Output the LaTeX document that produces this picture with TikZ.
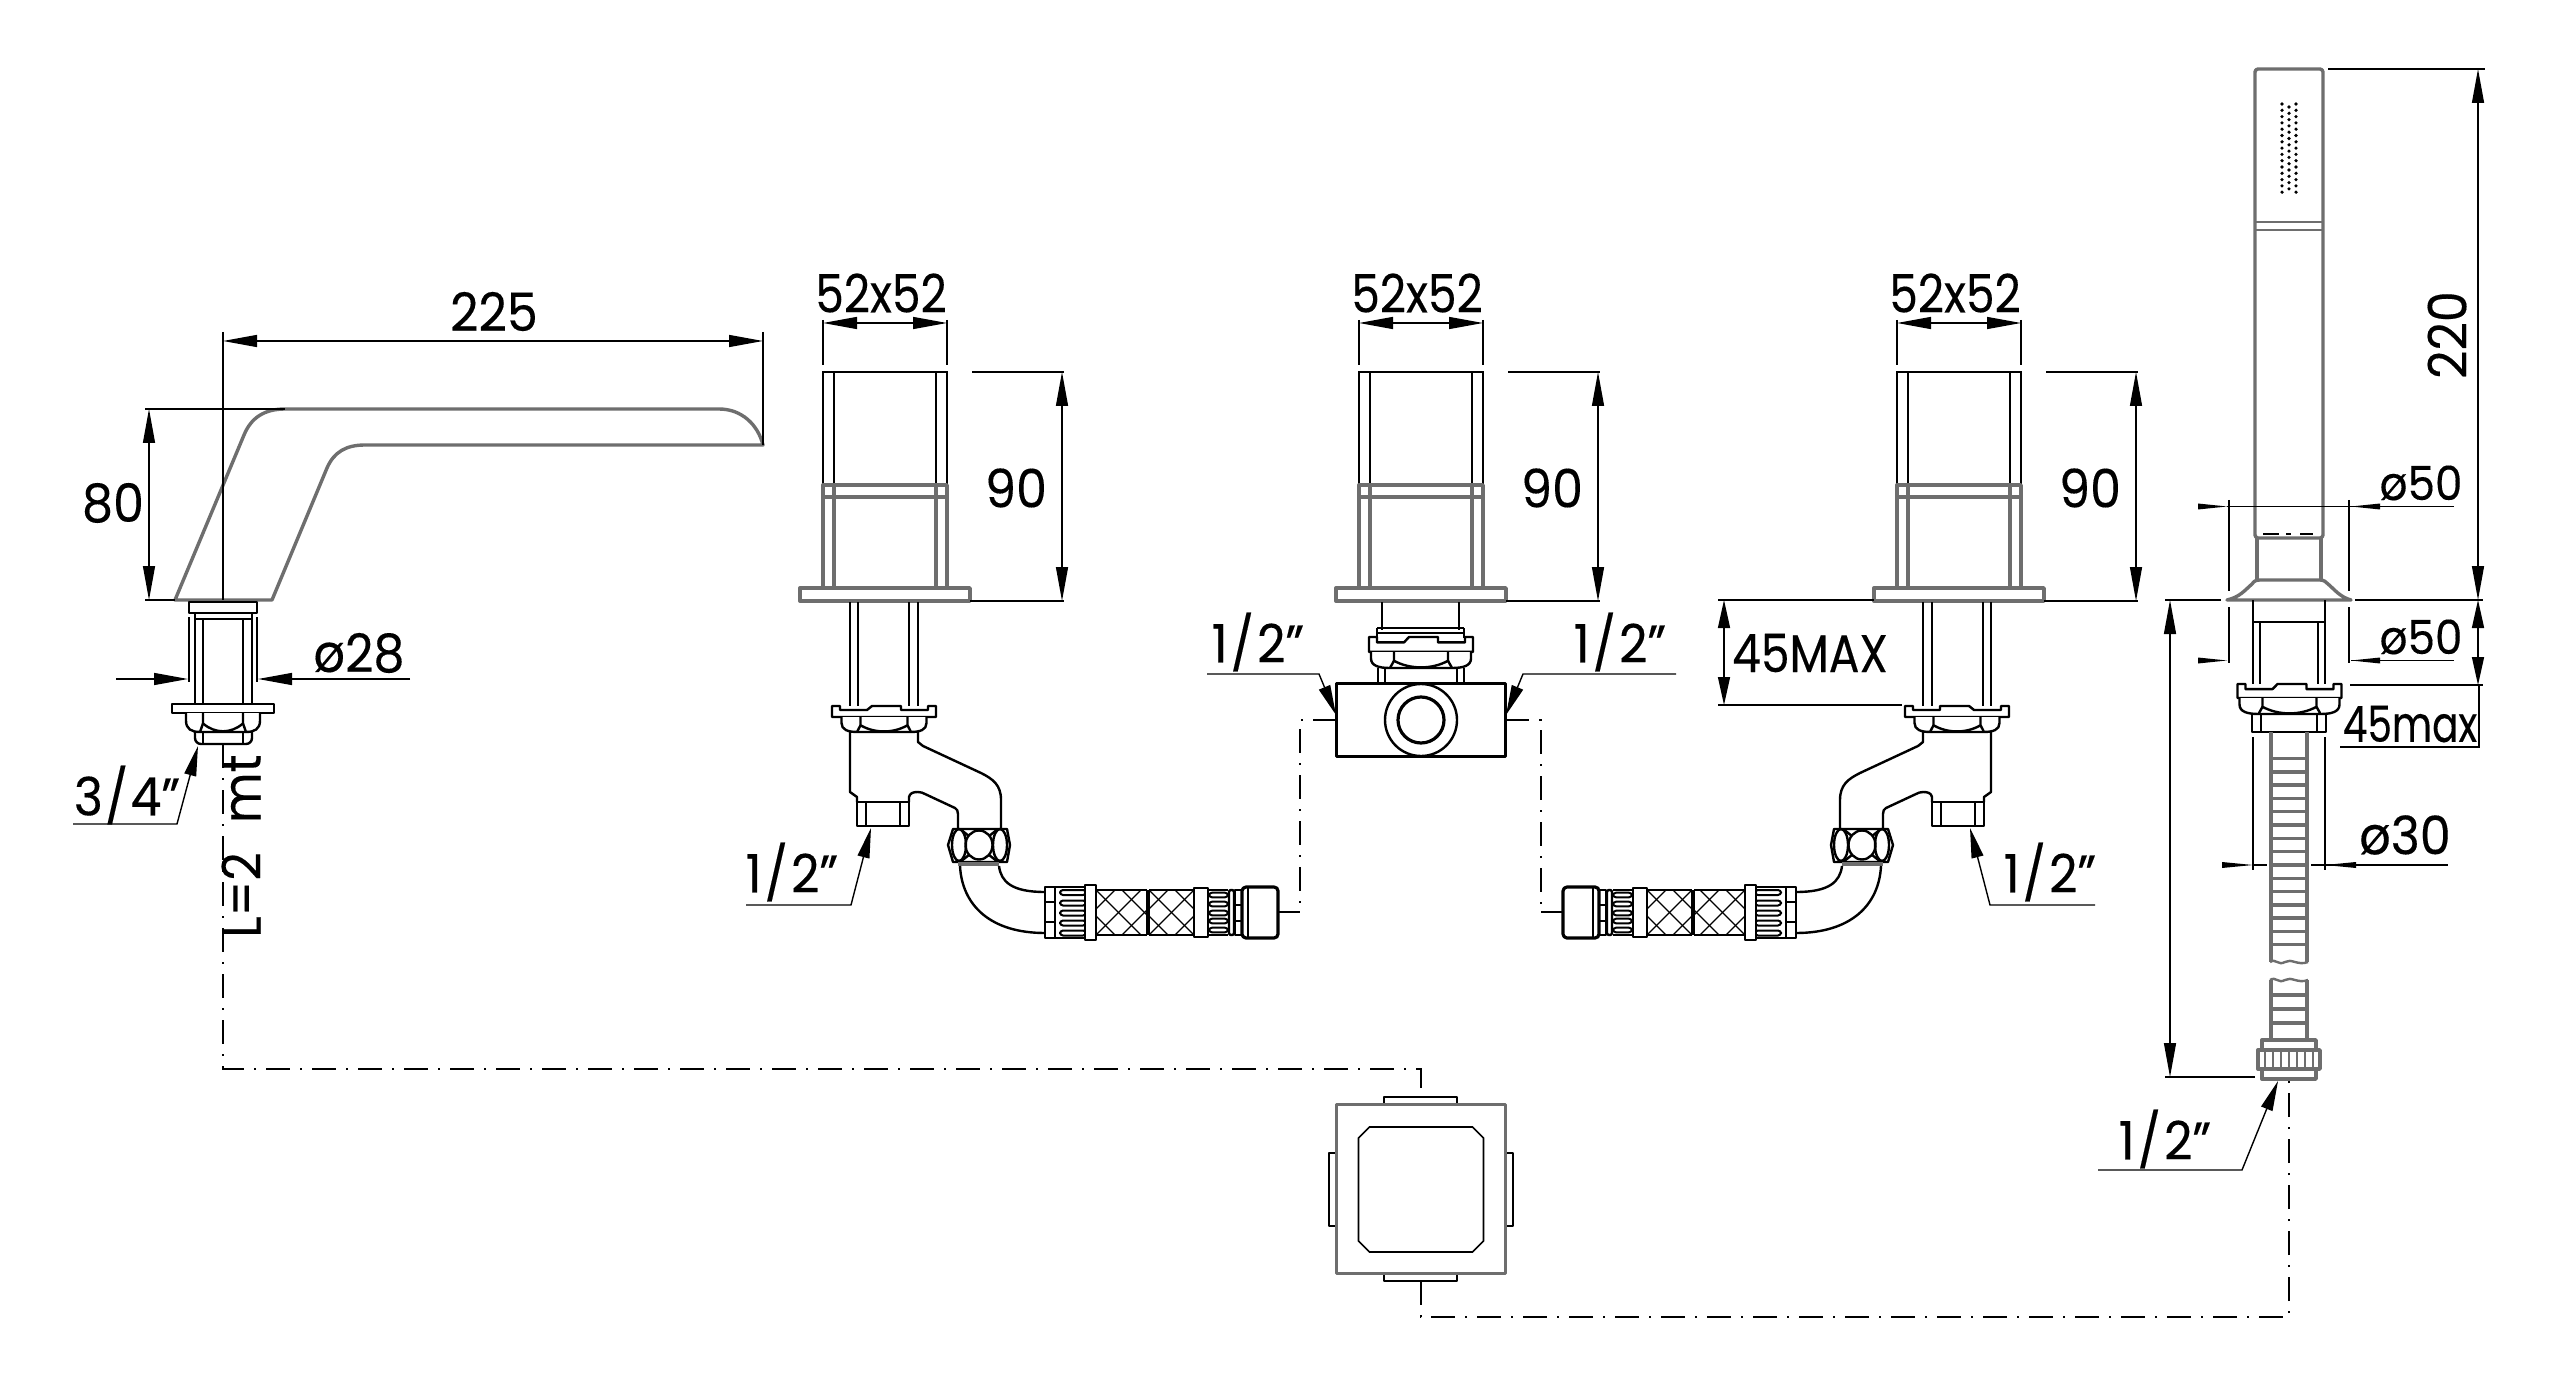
\documentclass[tikz,border=0pt]{standalone}
\usepackage{fontspec}
\setmainfont{Poppins}
\newfontface\dimfont{Poppins}[FakeBold=0.25,FakeStretch=0.93]
\newfontface\dimnarrow{Poppins}[FakeBold=0.25,FakeStretch=0.86]
\newfontface\dimtight{Poppins}[FakeBold=0.25,FakeStretch=0.78]
\usetikzlibrary{arrows.meta}
\definecolor{gr}{HTML}{6E6E6E}
\tikzset{
 blk/.style={line width=1.2pt,line join=round,black},
 gry/.style={line width=1.7pt,line join=round,gr},
 thn/.style={line width=0.7pt,black},
 cline/.style={line width=0.7pt,black,dash pattern=on 12pt off 5pt on 1pt off 5pt},
 dimline/.style={line width=0.7pt,black,>={Triangle[length=17pt,width=6pt]}},
 dimshort/.style={line width=0.7pt,black,>={Triangle[length=14pt,width=6pt]}},
 leader/.style={line width=0.7pt,black,-{Triangle[length=15pt,width=6pt]}},
 dimtext/.style={inner sep=0pt,font={\dimfont\fontsize{26.5}{28}\selectfont}},
 narrowtext/.style={inner sep=0pt,font={\dimnarrow\fontsize{26.5}{28}\selectfont}},
 smalltext/.style={inner sep=0pt,font={\dimfont\fontsize{23.5}{26}\selectfont}},
 tighttext/.style={inner sep=0pt,font={\dimtight\fontsize{25}{27}\selectfont}},
}
\newcommand\halfinch{1\kern1.5pt/\kern1.5pt2”}
\newcommand\flangeshape{%
 \draw[blk,fill=white] (-52,0)--(-44,0)--(-44,4)--(-17,4)--(-12,0)--(17,0)--(17,4)--(44,4)--(44,0)--(52,0)--(52,11)--(-52,11)--cycle;}
\newcommand\nutshape[3]{%
 \draw[blk,fill=white] (-#1,0)--(-#1,{.4*#3}) .. controls (-#1,{.85*#3}) and ({-.85*#1},#3) .. ({-.62*#1},#3)--({.62*#1},#3) .. controls ({.85*#1},#3) and (#1,{.85*#3}) .. (#1,{.4*#3})--(#1,0);
 \draw[blk] (-#2,0)--(-#2,{.55*#3}) .. controls ({-.4*#2},{1.1*#3}) and ({.4*#2},{1.1*#3}) .. (#2,{.55*#3})--(#2,0);
 \draw[blk] (-#2,{.55*#3})--({-1.15*#2},#3) (#2,{.55*#3})--({1.15*#2},#3);}
\newcommand\headunit[2]{%
 \begin{scope}[shift={(#1,0)}]
 \draw[thn] (-62,485)--(-62,372)--(62,372)--(62,485);
 \draw[thn] (-51,372)--(-51,485) (51,372)--(51,485);
 \draw[gry] (-62,485) rectangle (62,497);
 \draw[gry] (-62,497)--(-62,588) (-51,485)--(-51,588) (51,485)--(51,588) (62,497)--(62,588);
 \draw[gry,fill=white] (-85,588) rectangle (85,601);
 \draw[thn] (-62,320)--(-62,365) (62,320)--(62,365);
 \draw[dimline,<->] (-62,323)--(62,323);
 \node[narrowtext] (w#2) at (-4,293) {52x52};
 \draw[thn] (87,372)--(179,372) (85,601)--(179,601);
 \draw[dimline,<->] (177,372)--(177,601);
 \node[dimtext] (h#2) at (131,488) {90};
 \end{scope}}
\newcommand\lowerassy[1]{%
 \draw[blk] (850,602)--(850,706) (858,602)--(858,706) (909,602)--(909,706) (918,602)--(918,706);
 \begin{scope}[shift={(884,706)}]\flangeshape\end{scope}
 \begin{scope}[shift={(884,717)}]\nutshape{42.5}{23.5}{15}\end{scope}
 \draw[blk] (850,732)--(850,792)--(857,797)--(857,802);
 \draw[blk] (857,802) rectangle (909,826);
 \draw[blk] (866,802)--(866,826) (900,802)--(900,826);
 \draw[blk] (909,802)--(909,797) .. controls (910,793) and (913,792) .. (918,792) .. controls (921,792) and (923,793) .. (925,794)--(955,808) .. controls (957,809) and (958,811) .. (958,814)--(958,829);
 \draw[blk] (918,732)--(918,742)--(923,746)--(981,773) .. controls (993,779) and (1001,785) .. (1001,800)--(1001,829);
 \draw[blk,fill=white] (953,829)--(1007,829)--(1010,845)--(1007,862)--(953,862)--(948,845)--cycle;
 \draw[blk] (959,845) circle [x radius=7,y radius=16];
 \draw[blk] (1000,845) circle [x radius=7,y radius=16];
 \draw[blk] (979,845) circle [x radius=13.5,y radius=14.5];
 \draw[blk] (960,829)--(969,836) (998,829)--(989,836) (960,862)--(969,855) (998,862)--(989,855);
 \fill[gr] (958,862) rectangle (999,866);
 \draw[blk] (960,866) .. controls (962,905) and (990,933) .. (1045,933);
 \draw[blk] (999,866) .. controls (1001,882) and (1012,892) .. (1045,892);
 \draw[blk,fill=white] (1045,887) rectangle (1055,938);
 \draw[blk] (1045,902)--(1055,902) (1045,922)--(1055,922);
 \draw[blk] (1055,887)--(1085,887) (1055,938)--(1085,938);
 \foreach \yy in {892.5,903,913,923,933}{\draw[blk,line width=1pt,rounded corners=1.5pt,fill=white] (1060,\yy-2.5) rectangle (1086,\yy+2.5);}
 \draw[blk,fill=white] (1085,885) rectangle (1096,940);
 \foreach \aa/\bb in {1096/1147,1149/1194}{
 \begin{scope}
  \clip (\aa,890) rectangle (\bb,935);
  \foreach \d in {-78,-52,...,130}{
   \draw[line width=0.65pt] (\aa+\d,890)--(\aa+\d+45,935);
   \draw[line width=0.65pt] (\aa+\d+45,890)--(\aa+\d,935);}
 \end{scope}
 \draw[blk,line width=1pt] (\aa,890)--(\bb,890) (\aa,935)--(\bb,935) (\aa,890)--(\aa,935) (\bb,890)--(\bb,935);}
 \draw[blk,fill=white] (1194,888) rectangle (1208,937);
 \draw[blk] (1208,890)--(1228,890) (1208,935)--(1228,935);
 \foreach \yy in {895,904,913,921,930}{\draw[blk,line width=1pt,rounded corners=1.5pt,fill=white] (1209,\yy-2.3) rectangle (1228,\yy+2.3);}
 \draw[blk,fill=white,rounded corners=1pt] (1229,890) rectangle (1234,935);
 \draw[blk,fill=white] (1235,890) rectangle (1242,935);
 \draw[blk] (1235,905)--(1242,905) (1235,921)--(1242,921);
 \draw[blk,line width=1.6pt,fill=white,rounded corners=2pt] (1242,887) rectangle (1278,938);
 \draw[blk] (1248,887)--(1248,938);
 \coordinate (#1end) at (1278,912);
 \coordinate (#1dash) at (1300,912);
 \draw[thn] (#1end)--(#1dash);}
\begin{document}
\begin{tikzpicture}[x=0.5pt,y=-0.5pt]
\useasboundingbox (0,0) rectangle (2560,1385);
\fill[white] (0,0) rectangle (2560,1385);

% connections
\node[inner sep=0pt,minimum width=84pt,minimum height=84pt] (mixbox) at (1421,1189) {};
\node[inner sep=0pt,minimum width=84pt,minimum height=36pt] (valve) at (1421,720) {};
\coordinate (spoutend) at (223,744);
\coordinate (turnA) at (223,1069);
\coordinate (turnB) at (1421,1069);
\coordinate (tabT) at (1421,1097);
\coordinate (tabB) at (1421,1281);
\coordinate (turnC) at (1421,1317);
\coordinate (turnD) at (2289,1317);
\coordinate (hoseend) at (2289,1079);
\draw[cline] (spoutend)--(turnA)--(turnB)--(tabT);
\draw[cline] (tabB)--(turnC)--(turnD)--(hoseend);

% spout
\draw[gry,fill=white] (175,600)--(244,435) .. controls (251,418) and (264,409) .. (285,409)--(719,409) .. controls (742,409) and (758,425) .. (763,445)--(365,445) .. controls (346,445) and (334,452) .. (327,468)--(272,600)--cycle;
\draw[thn] (223,332)--(223,600);
\draw[thn] (763,332)--(763,445);
\draw[dimline,<->] (223,341)--(763,341);
\node[dimtext] (t225) at (494,311.5) {225};
\draw[thn] (145,409)--(285,409) (145,600)--(175,600);
\draw[dimline,<->] (149,409)--(149,600);
\node[dimtext] (t80) at (113,503) {80};
% spout fixing
\draw[blk,fill=white] (189,602) rectangle (257,613);
\draw[blk] (195,613)--(195,705) (203,619)--(203,705) (243,619)--(243,705) (252,613)--(252,705) (195,619)--(252,619);
\draw[thn] (189,617)--(189,682) (257,617)--(257,682);
\draw[dimline,->] (116,679)--(188,679);
\draw[dimline,->] (410,679)--(258,679);
\node[dimtext] (t28) at (359,653) {ø28};
\draw[blk,fill=white] (172,704) rectangle (274,713);
\begin{scope}[shift={(223,713)}]\nutshape{37}{20}{19}\end{scope}
\draw[blk,rounded corners=3pt] (195,732)--(195,744)--(252,744)--(252,732);
\draw[blk] (203,732)--(203,744) (243,732)--(243,744);
\draw[leader] (73,824)--(177,824)--(198,746);
\node[dimtext] (t34) at (127,795) {3\kern1pt/\kern1pt4”};
\node[dimtext,rotate=90] (tL) at (241,846) {L=2\hspace{0.55em}mt};

% heads
\headunit{885}{a}
\headunit{1421}{b}
\headunit{1959}{c}

% lower assemblies
\lowerassy{hL}
\begin{scope}[shift={(2841,0)},xscale=-1]
\lowerassy{hR}
\end{scope}
\draw[leader] (746,905)--(851,905)--(871,828);
\node[dimtext] (hl1) at (792,872) {\halfinch};
\draw[leader] (2095,905)--(1990,905)--(1970,828);
\node[dimtext] (hl2) at (2050,872) {\halfinch};

% middle valve
\draw[blk] (1382,602)--(1382,630) (1459,602)--(1459,630);
\draw[blk] (1377,628)--(1464,628) (1377,633)--(1464,633) (1377,628)--(1377,638) (1464,628)--(1464,638);
\begin{scope}[shift={(1421,637)},yscale=1.35]\flangeshape\end{scope}
\begin{scope}[shift={(1421,652)}]\nutshape{50}{27}{16}\end{scope}
\draw[blk] (1378,668)--(1378,684) (1385,668)--(1385,684) (1457,668)--(1457,684) (1464,668)--(1464,684);
\draw[blk] (valve.north west) rectangle (valve.south east);
\draw[blk,fill=white] (valve.center) circle [radius=36];
\draw[blk,line width=1.6pt] (valve.center) circle [radius=23];
\draw[cline] (valve.west)--(1300,720)--(hLdash);
\draw[cline] (valve.east)--(1541,720)--(hRdash);
\draw[leader] (1207,674)--(1319,674)--(1336,715);
\draw[leader] (1676,674)--(1523,674)--(1506,715);
\node[dimtext] (v1) at (1258,642) {\halfinch};
\node[dimtext] (v2) at (1620,642) {\halfinch};

% 45MAX
\draw[thn] (1718,600)--(1874,600) (1718,705)--(1902,705);
\draw[dimshort,<->] (1724,600)--(1724,705);
\node[narrowtext] (t45) at (1810,653) {45MAX};

% box
\draw[blk] (1384,1105)--(1384,1097)--(1457,1097)--(1457,1105);
\draw[blk] (1384,1273)--(1384,1281)--(1457,1281)--(1457,1273);
\draw[blk] (1337,1153)--(1329,1153)--(1329,1226)--(1337,1226);
\draw[blk] (1505,1153)--(1513,1153)--(1513,1226)--(1505,1226);
\draw[gry] (mixbox.north west) rectangle (mixbox.south east);
\draw[line width=0.8pt] (1369.5,1127)--(1472.5,1127)--(1483.5,1138)--(1483.5,1241)--(1472.5,1252)--(1369.5,1252)--(1358.5,1241)--(1358.5,1138)--cycle;

% hand shower
\draw[gry,rounded corners=1.5pt] (2255,538)--(2255,69)--(2323,69)--(2323,538)--cycle;
\draw[gry,line width=1.3pt] (2255,222)--(2323,222) (2255,230)--(2323,230);
\foreach \xx in {2282,2296}{\foreach \yy in {0,...,14}{\fill (\xx,104+\yy*6.3) circle [radius=1.8];}}
\foreach \yy in {0,...,13}{\fill (2289,107+\yy*6.3) circle [radius=1.8];}
\draw[line width=1pt,black] (2263,534)--(2279,534) (2286,534)--(2291,534) (2300,534)--(2313,534);
\draw[gry] (2257,538)--(2257,580) (2321,538)--(2321,580);
\draw[gry,fill=white] (2227,600) .. controls (2240,597) and (2245,590) .. (2252,584) .. controls (2254,581) and (2256,580) .. (2260,580)--(2320,580) .. controls (2324,580) and (2326,582) .. (2328,584) .. controls (2335,590) and (2340,597) .. (2351,600)--cycle;
% dims of the shower head
\draw[thn] (2229,500)--(2229,591) (2349,500)--(2349,591);
\draw[thn] (2454,506.5)--(2227,506.5);
\fill (2227,506.5)--(2198,503.5)--(2198,509.5)--cycle;
\fill (2351,506.5)--(2380,503.5)--(2380,509.5)--cycle;
\node[smalltext] (d50a) at (2421,483) {ø50};
\draw[thn] (2229,607)--(2229,663) (2349,607)--(2349,663);
\draw[thn] (2454,660.5)--(2351,660.5);
\fill (2227,660.5)--(2198,657.5)--(2198,663.5)--cycle;
\fill (2351,660.5)--(2380,657.5)--(2380,663.5)--cycle;
\node[smalltext] (d50b) at (2421,637) {ø50};
\draw[thn] (2328,69)--(2485,69) (2355,600)--(2483,600);
\draw[dimline,<->] (2478,69)--(2478,600);
\node[dimtext,rotate=90] (t220) at (2447,335) {220};
\draw[thn] (2350,685)--(2483,685);
\draw[dimshort,<->] (2478,600)--(2478,685);
\draw[thn] (2479,685)--(2479,747)--(2340,747);
\node[tighttext] (t45m) at (2410,724) {45max};
% fixing
\draw[blk] (2253,600)--(2253,684) (2325,600)--(2325,684) (2253,622)--(2325,622) (2260,622)--(2260,684) (2318,622)--(2318,684);
\begin{scope}[shift={(2289.5,684)},yscale=1.27]\flangeshape\end{scope}
\begin{scope}[shift={(2289.5,698)}]\nutshape{50}{27}{16}\end{scope}
\draw[blk] (2252,714) rectangle (2326,732);
\draw[blk] (2261,714)--(2261,732) (2317,714)--(2317,732);
% hose
\draw[gry] (2271,732)--(2271,962) (2307,732)--(2307,962);
\foreach \yy in {0,...,14}{\draw[gry] (2271,758.5+\yy*13.3)--(2307,758.5+\yy*13.3);}
\draw[gry,line width=1.2pt] (2270,962) .. controls (2276,958) and (2278,966) .. (2285,962) .. controls (2291,958) and (2298,966) .. (2308,962);
\draw[gry,line width=1.2pt] (2270,980) .. controls (2276,976) and (2278,984) .. (2285,980) .. controls (2291,976) and (2298,984) .. (2308,980);
\draw[gry] (2271,980)--(2271,1040) (2307,980)--(2307,1040);
\foreach \yy in {995,1009,1023}{\draw[gry] (2271,\yy)--(2307,\yy);}
\draw[gry,fill=white] (2262,1040) rectangle (2316,1079);
\draw[gry,fill=white] (2258,1050) rectangle (2320,1069);
\foreach \xx in {2265,2273,...,2313}{\draw[gry,line width=1pt] (\xx,1052)--(\xx,1067);}
% dims of the hose
\draw[thn] (2253,737)--(2253,870) (2325,737)--(2325,870);
\draw[thn] (2253,865)--(2267,865);
\fill (2253,865)--(2222,862)--(2222,868)--cycle;
\fill (2325,865)--(2356,862)--(2356,868)--cycle;
\draw[thn] (2311,865)--(2448,865);
\node[dimtext] (d30) at (2405,835) {ø30};
\draw[thn] (2165,600)--(2221,600) (2165,1077)--(2255,1077);
\draw[dimline,<->] (2170,600)--(2170,1077);
\draw[leader] (2098,1170)--(2242,1170)--(2278,1081);
\node[dimtext] (t12) at (2165,1139) {\halfinch};
\end{tikzpicture}
\end{document}
